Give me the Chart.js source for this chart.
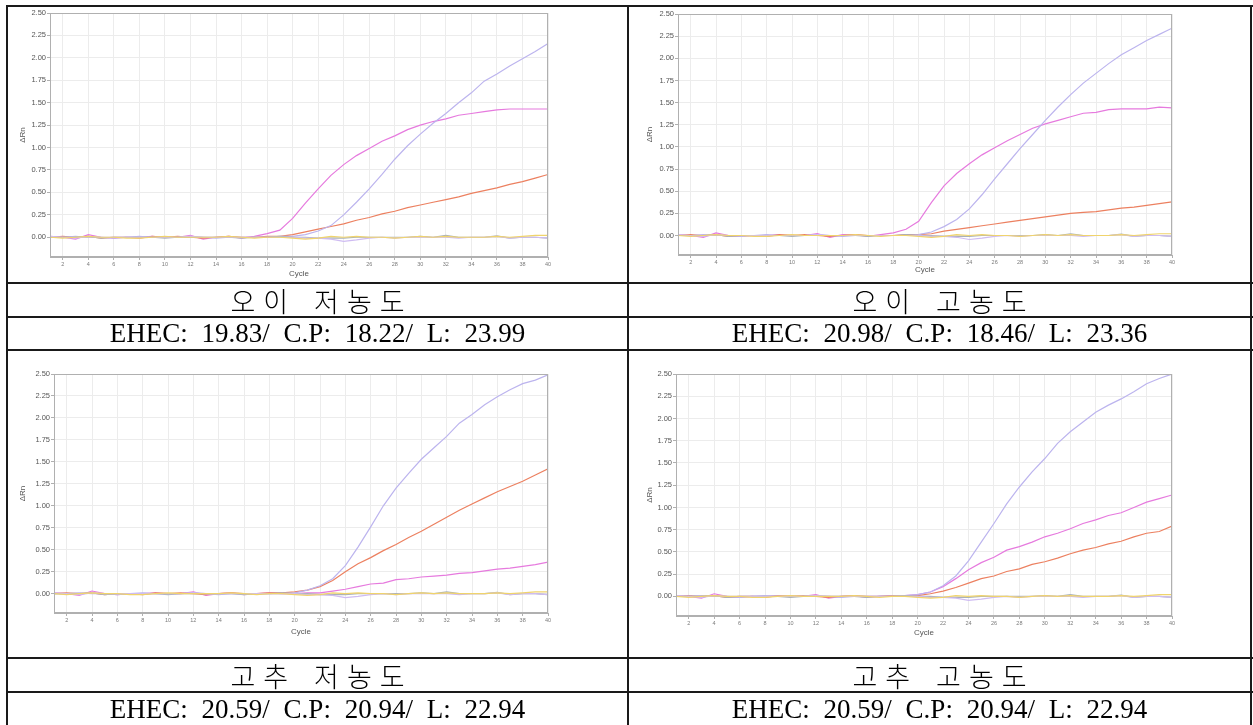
<!DOCTYPE html>
<html>
<head>
<meta charset="utf-8">
<script src="https://cdn.jsdelivr.net/npm/chart.js@4.4.1/dist/chart.umd.min.js"></script>
<style>
  html, body { margin: 0; padding: 0; background: #fff; }
  #page { position: relative; width: 1253px; height: 725px; overflow: hidden; background: #fff; }
  .hl { position: absolute; height: 2px; background: #1a1a1a; }
  .vl { position: absolute; width: 2px; background: #1a1a1a; }
  .cap { position: absolute; display: flex; align-items: center; justify-content: center; color: #000; white-space: pre; }
  .kr { font-family: "Noto Sans CJK KR"; font-weight: 300; font-size: 27px; letter-spacing: 8px; word-spacing: 4px; padding-left: 8px; box-sizing: border-box; }
  .val { font-family: "Liberation Serif"; font-size: 27px; word-spacing: 7px; }
  canvas { position: absolute; }
</style>
</head>
<body>
<div id="page">
  <canvas id="c1"></canvas>
  <canvas id="c2"></canvas>
  <canvas id="c3"></canvas>
  <canvas id="c4"></canvas>

  <!-- table rules -->
  <div class="hl" style="left:6px; top:5px; width:1247px;"></div>
  <div class="hl" style="left:6px; top:282px; width:1247px;"></div>
  <div class="hl" style="left:6px; top:316px; width:1247px;"></div>
  <div class="hl" style="left:6px; top:349px; width:1247px;"></div>
  <div class="hl" style="left:6px; top:657px; width:1247px;"></div>
  <div class="hl" style="left:6px; top:691px; width:1247px;"></div>
  <div class="vl" style="left:6px; top:5px; height:720px;"></div>
  <div class="vl" style="left:627px; top:5px; height:720px;"></div>
  <div class="vl" style="left:1250px; top:5px; height:720px;"></div>

  <!-- captions -->
  <div class="cap kr"  style="left:8px;   top:284px; width:619px; height:32px;">오이 저농도</div>
  <div class="cap kr"  style="left:629px; top:284px; width:621px; height:32px;">오이 고농도</div>
  <div class="cap val" style="left:8px;   top:318px; width:619px; height:31px;">EHEC: 19.83/ C.P: 18.22/ L: 23.99</div>
  <div class="cap val" style="left:629px; top:318px; width:621px; height:31px;">EHEC: 20.98/ C.P: 18.46/ L: 23.36</div>
  <div class="cap kr"  style="left:8px;   top:659px; width:619px; height:32px;">고추 저농도</div>
  <div class="cap kr"  style="left:629px; top:659px; width:621px; height:32px;">고추 고농도</div>
  <div class="cap val" style="left:8px;   top:693px; width:619px; height:32px;">EHEC: 20.59/ C.P: 20.94/ L: 22.94</div>
  <div class="cap val" style="left:629px; top:693px; width:621px; height:32px;">EHEC: 20.59/ C.P: 20.94/ L: 22.94</div>
</div>

<script>
// Cycle numbers (x axis)
const cycles = [1,2,3,4,5,6,7,8,9,10,11,12,13,14,15,16,17,18,19,20,
                21,22,23,24,25,26,27,28,29,30,31,32,33,34,35,36,37,38,39,40];

// Y axis tick labels (ΔRn)
const yTickLabels = ['0.00','0.25','0.50','0.75','1.00','1.25','1.50','1.75','2.00','2.25','2.50'];

// 오이 저농도
const cucLowEHEC = [0.00,0.01,0.00,0.01,-0.01,0.00,0.00,-0.01,0.01,0.00,0.01,0.00,-0.01,0.00,0.01,0.00,0.00,0.01,0.01,0.03,
                    0.06,0.09,0.12,0.15,0.19,0.22,0.26,0.29,0.33,0.36,0.39,0.42,0.45,0.49,0.52,0.55,0.59,0.62,0.66,0.70];
const cucLowCP   = [0.01,0.00,-0.02,0.03,0.00,-0.01,0.00,0.00,0.01,0.00,0.00,0.02,-0.02,0.00,0.01,-0.01,0.01,0.04,0.08,0.21,
                    0.38,0.54,0.69,0.81,0.91,0.99,1.07,1.13,1.20,1.25,1.29,1.32,1.36,1.38,1.40,1.42,1.43,1.43,1.43,1.43];
const cucLowL    = [0.00,0.00,0.01,0.00,0.00,-0.01,0.00,0.01,0.00,0.00,0.00,0.01,0.00,-0.01,0.00,0.00,0.00,0.00,0.01,0.01,
                    0.03,0.07,0.13,0.25,0.39,0.54,0.70,0.87,1.02,1.15,1.27,1.38,1.50,1.61,1.74,1.82,1.91,1.99,2.07,2.16];

// 오이 고농도
const cucHighEHEC = [0.00,0.01,0.00,0.01,-0.01,0.00,0.00,-0.01,0.01,0.00,0.01,0.00,-0.01,0.00,0.01,0.00,0.00,0.00,0.01,0.01,
                     0.02,0.05,0.07,0.09,0.11,0.13,0.15,0.17,0.19,0.21,0.23,0.25,0.26,0.27,0.29,0.31,0.32,0.34,0.36,0.38];
const cucHighCP   = [0.01,0.00,-0.02,0.03,0.00,-0.01,0.00,0.00,0.01,0.00,0.00,0.02,-0.02,0.01,0.01,-0.01,0.01,0.03,0.07,0.16,
                     0.37,0.56,0.70,0.81,0.91,0.99,1.07,1.14,1.21,1.26,1.30,1.34,1.38,1.39,1.42,1.43,1.43,1.43,1.45,1.44];
const cucHighL    = [0.00,0.00,0.01,0.00,0.00,-0.01,0.00,0.01,0.00,0.00,0.00,0.01,0.00,-0.01,0.00,0.00,0.00,0.00,0.00,0.01,
                     0.04,0.10,0.18,0.30,0.46,0.64,0.81,0.98,1.14,1.30,1.45,1.59,1.72,1.83,1.94,2.04,2.12,2.20,2.27,2.34];

// 고추 저농도
const pepLowEHEC = [0.00,0.01,0.00,0.01,-0.01,0.00,0.00,-0.01,0.01,0.00,0.01,0.00,-0.01,0.00,0.01,0.00,0.00,0.01,0.01,0.02,
                    0.04,0.08,0.15,0.25,0.34,0.41,0.49,0.56,0.64,0.71,0.79,0.87,0.95,1.02,1.09,1.16,1.22,1.28,1.35,1.42];
const pepLowCP   = [0.01,0.00,-0.02,0.03,0.00,-0.01,0.00,0.00,0.01,0.00,0.00,0.02,-0.02,0.00,0.01,-0.01,0.00,0.01,0.00,0.00,
                    0.01,0.01,0.03,0.05,0.08,0.11,0.12,0.16,0.17,0.19,0.20,0.21,0.23,0.24,0.26,0.28,0.29,0.31,0.33,0.36];
const pepLowL    = [0.00,0.00,0.01,0.00,0.00,-0.01,0.00,0.01,0.00,0.00,0.00,0.01,0.00,-0.01,0.00,0.00,0.00,0.00,0.00,0.01,
                    0.04,0.09,0.17,0.32,0.53,0.76,1.00,1.20,1.37,1.53,1.66,1.79,1.94,2.04,2.15,2.24,2.32,2.39,2.43,2.49];

// 고추 고농도
const pepHighEHEC = [0.00,0.01,0.00,0.01,-0.01,0.00,0.00,-0.01,0.01,0.00,0.01,0.00,-0.01,0.00,0.01,0.00,0.00,0.01,0.01,0.01,
                     0.03,0.06,0.10,0.15,0.20,0.23,0.28,0.31,0.36,0.39,0.43,0.48,0.52,0.55,0.59,0.62,0.67,0.71,0.73,0.79];
const pepHighCP   = [0.01,0.00,-0.02,0.03,0.00,-0.01,0.00,0.00,0.01,0.00,0.00,0.02,-0.02,0.00,0.01,-0.01,0.00,0.01,0.01,0.02,
                     0.05,0.11,0.20,0.30,0.38,0.44,0.52,0.56,0.61,0.67,0.71,0.76,0.82,0.86,0.91,0.94,1.00,1.06,1.10,1.14];
const pepHighL    = [0.00,0.00,0.01,0.00,0.00,-0.01,0.00,0.01,0.00,0.00,0.00,0.01,0.00,-0.01,0.00,0.00,0.00,0.00,0.01,0.02,
                     0.05,0.12,0.23,0.40,0.61,0.82,1.04,1.23,1.40,1.55,1.72,1.85,1.96,2.07,2.15,2.22,2.30,2.39,2.45,2.50];

// No-template controls, flat in every panel
const ntcYellow = [0.00,-0.01,0.00,0.01,0.00,0.00,-0.01,-0.01,0.00,0.01,0.00,0.00,0.00,0.00,0.01,0.00,-0.01,0.00,0.00,-0.01,
                   -0.02,-0.01,0.01,0.00,0.01,0.00,0.00,-0.01,0.00,0.01,0.00,0.01,0.00,0.00,0.00,0.01,0.00,0.01,0.02,0.02];
const ntcLilac  = [0.01,0.00,-0.01,0.01,0.00,0.00,0.00,0.00,0.00,0.00,0.00,0.01,0.00,0.00,0.00,0.00,0.00,0.00,0.00,0.00,
                   -0.01,-0.01,-0.02,-0.045,-0.03,-0.01,0.00,-0.01,0.00,0.00,0.00,0.00,-0.01,0.00,0.00,0.01,-0.01,0.00,0.00,-0.01];
const ntcGrey   = [0.00,0.00,0.00,0.01,-0.01,0.00,0.00,0.00,0.00,-0.01,0.00,0.00,0.00,0.00,0.00,-0.01,0.00,0.00,0.01,0.00,
                   0.00,-0.01,-0.01,-0.01,0.00,0.00,0.00,0.00,0.00,0.01,0.00,0.02,0.00,0.00,0.00,0.015,-0.01,0.00,0.00,-0.01];

const COLORS = {
  EHEC: '#ec8060',
  CP:   '#e67ade',
  L:    '#bcb4ee',
  ntcYellow: '#f0d46c',
  ntcLilac:  '#cfbcf2',
  ntcGrey:   '#aab2ba'
};

// Box around the plotting area
const frame = {
  id: 'frame',
  afterDatasetsDraw(chart) {
    const a = chart.chartArea, ctx = chart.ctx;
    ctx.save();
    ctx.strokeStyle = '#b0b0b0';
    ctx.lineWidth = 1;
    ctx.strokeRect(Math.round(a.left) + 0.5, Math.round(a.top) + 0.5,
                   Math.round(a.right - a.left) - 1, Math.round(a.bottom - a.top) - 1);
    ctx.restore();
  }
};

function series(label, values, color) {
  return {
    label,
    data: cycles.map((c, i) => ({ x: c, y: values[i] })),
    borderColor: color,
    borderWidth: 1.2,
    pointRadius: 0,
    tension: 0,
    fill: false
  };
}

function onStep(v, step) {
  const r = v / step;
  return Math.abs(r - Math.round(r)) < 1e-6;
}

function build(id, box, ehec, cp, l) {
  const cv = document.getElementById(id);
  cv.width = box.w; cv.height = box.h;
  cv.style.left = box.x + 'px'; cv.style.top = box.y + 'px';
  cv.style.width = box.w + 'px'; cv.style.height = box.h + 'px';

  new Chart(cv, {
    type: 'line',
    data: {
      datasets: [
        series('NTC 1', ntcYellow, COLORS.ntcYellow),
        series('NTC 2', ntcLilac, COLORS.ntcLilac),
        series('NTC 3', ntcGrey, COLORS.ntcGrey),
        series('L', l, COLORS.L),
        series('EHEC', ehec, COLORS.EHEC),
        series('C.P', cp, COLORS.CP)
      ]
    },
    plugins: [frame],
    options: {
      responsive: false,
      animation: false,
      devicePixelRatio: 1,
      layout: { padding: { left: box.pl, top: box.pt, right: box.pr, bottom: box.pb } },
      plugins: { legend: { display: false }, tooltip: { enabled: false } },
      scales: {
        x: {
          type: 'linear', min: 1, max: 40,
          ticks: {
            stepSize: 2, autoSkip: false, maxRotation: 0,
            font: { family: 'Liberation Sans', size: 5.5 }, color: '#7a7a7a', padding: 1
          },
          afterBuildTicks: s => { s.ticks = s.ticks.filter(t => onStep(t.value, 2)); },
          afterFit: s => { s.height = box.xh; },
          grid: { color: '#ececec', lineWidth: 1, tickLength: 3, tickColor: '#b0b0b0' },
          border: { color: '#b0b0b0' },
          title: { display: true, text: 'Cycle', color: '#555',
                   font: { family: 'Liberation Sans', size: 8 }, padding: { top: 0, bottom: 0 } }
        },
        y: {
          min: -0.22, max: 2.5,
          ticks: {
            stepSize: 0.25,
            font: { family: 'Liberation Sans', size: 7.5 }, color: '#555', padding: 1,
            callback: v => yTickLabels[Math.round(v / 0.25)] ?? ''
          },
          afterBuildTicks: s => { s.ticks = s.ticks.filter(t => onStep(t.value, 0.25) && t.value >= 0); },
          afterFit: s => { s.width = box.yw; },
          grid: { color: '#ececec', lineWidth: 1, tickLength: 3, tickColor: '#b0b0b0' },
          border: { color: '#b0b0b0' },
          title: { display: true, text: 'ΔRn', color: '#555',
                   font: { family: 'Liberation Sans', size: 8 }, padding: { top: 0, bottom: 0 } }
        }
      }
    }
  });
}

build('c1', { x: 8,   y: 7,   w: 619, h: 276, pl: 10, pt: 6,  pr: 79, pb: 4,  yw: 32, xh: 22 }, cucLowEHEC,  cucLowCP,  cucLowL);
build('c2', { x: 629, y: 7,   w: 622, h: 276, pl: 16, pt: 7,  pr: 79, pb: 8,  yw: 33, xh: 20 }, cucHighEHEC, cucHighCP, cucHighL);
build('c3', { x: 8,   y: 351, w: 619, h: 307, pl: 10, pt: 23, pr: 79, pb: 21, yw: 36, xh: 24 }, pepLowEHEC,  pepLowCP,  pepLowL);
build('c4', { x: 629, y: 351, w: 622, h: 307, pl: 16, pt: 23, pr: 79, pb: 20, yw: 31, xh: 22 }, pepHighEHEC, pepHighCP, pepHighL);
</script>
</body>
</html>
